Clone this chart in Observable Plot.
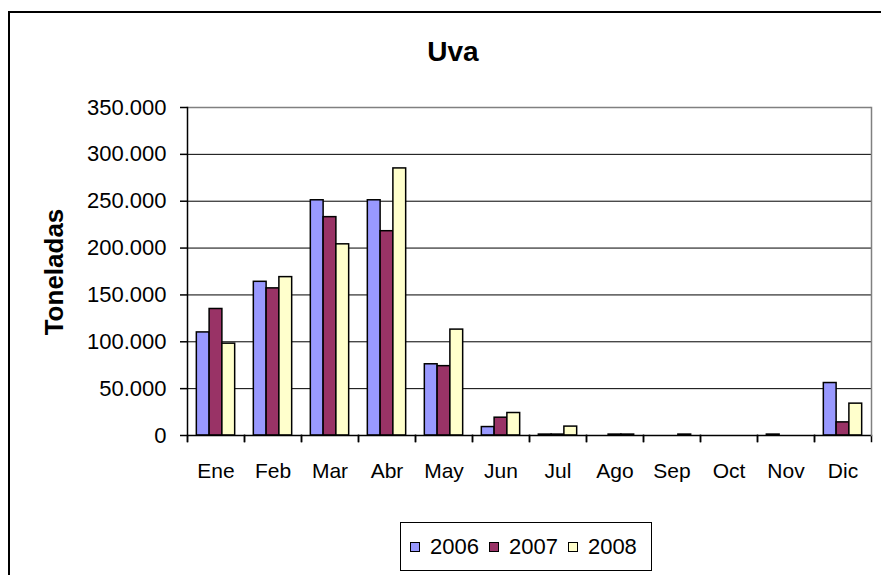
<!DOCTYPE html>
<html>
<head>
<meta charset="utf-8">
<script src="https://cdn.jsdelivr.net/npm/d3@7"></script>
<script src="https://cdn.jsdelivr.net/npm/@observablehq/plot@0.6"></script>
<style>
  body { margin: 0; background: #fff; }
  #chart { position: relative; width: 881px; height: 575px; overflow: hidden;
           font-family: "Liberation Sans", Arial, sans-serif; color: #000; background: #fff; }
  #frame { position: absolute; left: 8px; top: 11px; width: 1000px; height: 1000px;
           border: 2px solid #000; }
  #title { position: absolute; left: 0; width: 906px; top: 38px; text-align: center;
           font-weight: bold; font-size: 28px; line-height: 1; }
  #ylabel { position: absolute; left: 54px; top: 272px; transform: translate(-50%, -50%) rotate(-90deg);
            font-weight: bold; font-size: 26px; line-height: 1; white-space: nowrap; }
  #plot { position: absolute; left: 0; top: 0; }
  #legend { position: absolute; left: 400px; top: 522px; width: 252px; height: 49px;
            box-sizing: border-box; border: 1.5px solid #000; display: flex; align-items: center;
            padding-left: 9px; font-size: 22px; line-height: 1; background: #fff; }
  .item { display: flex; align-items: center; margin-right: 10px; }
  .sw { width: 8px; height: 8px; border: 1.5px solid #000; margin-right: 10px; }
</style>
</head>
<body>
<div id="chart">
  <div id="frame"></div>
  <div id="plot"></div>
  <div id="title"></div>
  <div id="ylabel"></div>
  <div id="legend"></div>
</div>
<script>
const title = "Uva";
const yLabel = "Toneladas";
const months = ["Ene", "Feb", "Mar", "Abr", "May", "Jun", "Jul", "Ago", "Sep", "Oct", "Nov", "Dic"];
const years = ["2006", "2007", "2008"];
const v2006 = [110000, 164000, 251000, 251000, 76000, 9000, 1000, 0, 0, 0, 1000, 56000];
const v2007 = [135000, 157000, 233000, 218000, 74000, 19000, 1000, 1000, 0, 0, 0, 14000];
const v2008 = [98000, 169000, 204000, 285000, 113000, 24000, 9500, 1000, 1000, 0, 0, 34000];
const yTicks = [0, 50000, 100000, 150000, 200000, 250000, 300000, 350000];
const colors = ["#9999FF", "#993366", "#FFFFCC"];

const series = [v2006, v2007, v2008];
const table = months.flatMap((m, i) => years.map((y, j) => ({month: m, year: y, value: series[j][i]})))
  .filter(d => d.value > 0);

const fmt = d => d === 0 ? "0" : d3.format(",")(d).replace(/,/g, ".");

document.getElementById("title").textContent = title;
document.getElementById("ylabel").textContent = yLabel;

const chart = Plot.plot({
  width: 881,
  height: 500,
  marginTop: 107,
  marginBottom: 65,
  marginLeft: 181,
  marginRight: 5,
  style: {fontFamily: "'Liberation Sans', Arial, sans-serif", fontSize: "21px", color: "#000", background: "transparent", overflow: "visible"},
  fx: {domain: months, padding: 0, label: null},
  x: {domain: years, paddingInner: 0, paddingOuter: 0.73, axis: null, round: false},
  y: {domain: [0, 350000], label: null},
  color: {domain: years, range: colors},
  marks: [
    Plot.gridY(yTicks.slice(1, -1), {stroke: "#000", strokeOpacity: 1, strokeWidth: 1}),
    Plot.ruleY([350000], {stroke: "#808080", strokeWidth: 1.5}),
    Plot.barY(table, {fx: "month", x: "year", y: "value", fill: "year", stroke: "#000", strokeWidth: 1.5}),
    Plot.ruleY(months, {fx: d => d, y: 0, stroke: "#000", strokeWidth: 1.5}),
    Plot.frame({anchor: "left", insetTop: 328, insetBottom: -6, stroke: "#000", strokeWidth: 1.5}),
    Plot.frame({anchor: "right", insetTop: 328, insetBottom: -6, stroke: "#000", strokeWidth: 1.5}),
    Plot.frame({fx: () => "Ene", anchor: "left", insetBottom: -6, stroke: "#000", strokeWidth: 1.5}),
    Plot.frame({fx: () => "Dic", anchor: "right", stroke: "#808080", strokeWidth: 1.5}),
    Plot.axisY(yTicks, {facetAnchor: "left", tickSize: 7, tickPadding: 14, tickFormat: fmt, strokeWidth: 1.5, fontSize: 22}),
    Plot.axisFx({anchor: "bottom", tickSize: 0, tickPadding: 28, label: null})
  ]
});
document.getElementById("plot").appendChild(chart);

const legend = document.getElementById("legend");
years.forEach((y, j) => {
  const item = document.createElement("div");
  item.className = "item";
  const sw = document.createElement("div");
  sw.className = "sw";
  sw.style.background = colors[j];
  const t = document.createElement("span");
  t.textContent = y;
  item.appendChild(sw);
  item.appendChild(t);
  legend.appendChild(item);
});
</script>
</body>
</html>
